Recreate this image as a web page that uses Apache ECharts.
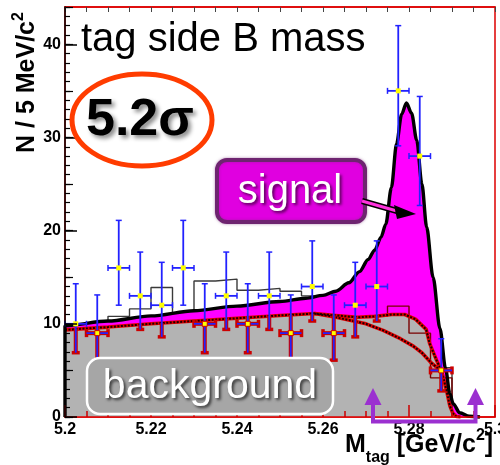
<!DOCTYPE html>
<html>
<head>
<meta charset="utf-8">
<script src="https://cdn.jsdelivr.net/npm/echarts@6/dist/echarts.min.js"></script>
<style>
  html, body { margin: 0; padding: 0; background: #fff; }
  #chart { width: 500px; height: 465px; }
</style>
</head>
<body>
<div id="chart"></div>
<script>
// ---- data: tag-side B candidate mass, 5 MeV bins ----
const binCenters = [5.2025, 5.2075, 5.2125, 5.2175, 5.2225, 5.2275, 5.2325, 5.2375, 5.2425,
                    5.2475, 5.2525, 5.2575, 5.2625, 5.2675, 5.2725, 5.2775, 5.2825, 5.2875];
const counts  = [10, 9, 16, 13, 12, 16, 10, 13, 10, 13, 9, 14, 9, 12, 14, 35, 28, 5];
const errLow  = [3.1, 2.9, 4.0, 3.6, 3.4, 4.0, 3.1, 3.6, 3.1, 3.6, 2.9, 3.7, 2.9, 3.4, 3.7, 5.9, 5.3, 2.2];
const errHigh = [4.3, 4.1, 5.1, 4.7, 4.6, 5.1, 4.3, 4.7, 4.3, 4.7, 4.1, 4.9, 4.1, 4.6, 4.9, 7.0, 6.4, 3.4];
const binHalfWidth = 0.0025;

// expected-yield histogram (thin step line)
const mcEdges  = [5.2, 5.205, 5.21, 5.215, 5.22, 5.225, 5.23, 5.235, 5.24, 5.245,
                  5.25, 5.255, 5.26, 5.265, 5.27, 5.275, 5.28, 5.285, 5.29];
const mcValues = [9.8, 10.0, 10.8, 11.6, 13.9, 11.0, 14.6, 14.8, 13.6, 13.8,
                  13.5, 13.0, 12.4, 12.6, 15.0, 22.0, 17.0, 5.3];

// background-only histogram near the endpoint
const bkgHistEdges  = [5.27, 5.275, 5.28, 5.285, 5.29];
const bkgHistValues = [10.8, 11.9, 9.0, 4.2];

// total fit (signal + background)
const fitX = [5.2, 5.21, 5.22, 5.23, 5.24, 5.25, 5.256, 5.26, 5.263, 5.266, 5.2685, 5.2705,
              5.272, 5.2735, 5.2746, 5.2759, 5.2771, 5.2783, 5.2794, 5.2806, 5.2818, 5.283,
              5.2841, 5.2856, 5.2872, 5.2885, 5.2895, 5.2903, 5.2918, 5.294, 5.2965];
const fitY = [9.8, 10.3, 10.85, 11.4, 11.9, 12.4, 12.75, 13.05, 13.5, 14.4, 15.6, 16.9,
              17.9, 19.3, 20.7, 24.6, 29.3, 32.5, 33.7, 32.6, 29.7, 25.0,
              20.4, 15.0, 9.5, 5.2, 2.5, 1.4, 0.45, 0.08, 0];

// background fit (all background components)
const bkgX = [5.2, 5.21, 5.22, 5.23, 5.24, 5.25, 5.258, 5.263, 5.268, 5.272, 5.276, 5.279,
              5.2815, 5.284, 5.2848, 5.2864, 5.2876, 5.2887, 5.2895, 5.2902, 5.291, 5.292];
const bkgY = [9.35, 9.65, 10.0, 10.3, 10.6, 10.9, 11.1, 10.9, 10.7, 10.8, 11.0, 11.0,
              10.5, 9.4, 7.9, 6.1, 4.9, 2.9, 1.2, 0.4, 0.05, 0];

// continuum-like background component
const contX = [5.258, 5.262, 5.266, 5.27, 5.274, 5.278, 5.281, 5.283, 5.2852, 5.2876];
const contY = [11.1, 10.8, 10.4, 10.0, 9.3, 8.4, 7.6, 6.9, 5.8, 4.9];

// axis ticks
const xTickValues = [5.2, 5.22, 5.24, 5.26, 5.28, 5.3];
const xTickLabels = ['5.2', '5.22', '5.24', '5.26', '5.28', '5.3'];
const yTickValues = [0, 10, 20, 30, 40];
const yTickLabels = ['0', '10', '20', '30', '40'];

// ---- helpers ----
const FONT = '"Liberation Sans", Arial, Helvetica, sans-serif';
function pairs(xs, ys) { return xs.map((x, i) => [x, ys[i]]); }
function stepData(edges, vals) {
  const d = vals.map((v, i) => [edges[i], v]);
  const last = edges[edges.length - 1];
  d.push([last, vals[vals.length - 1]]);
  d.push([last, 0]);
  return d;
}
function interp(xs, ys, x) {
  if (x <= xs[0]) return ys[0];
  for (let i = 1; i < xs.length; i++) {
    if (x <= xs[i]) {
      const t = (x - xs[i - 1]) / (xs[i] - xs[i - 1]);
      return ys[i - 1] + t * (ys[i] - ys[i - 1]);
    }
  }
  return ys[ys.length - 1];
}
function labelFor(values, labels) {
  return function (v) {
    for (let i = 0; i < values.length; i++) if (Math.abs(v - values[i]) < 1e-7) return labels[i];
    return '';
  };
}
const measureCtx = document.createElement('canvas').getContext('2d');
function textWidth(t, font) { measureCtx.font = font; return measureCtx.measureText(t).width; }

const RED = '#cc0000';
const BLUE = '#2222ff';

function renderPoint(params, api) {
  const x = api.value(0), y = api.value(1), lo = api.value(2), hi = api.value(3);
  const bk = interp(bkgX, bkgY, x);
  const c = api.coord([x, y]);
  const cl = api.coord([x - binHalfWidth, y]);
  const cr = api.coord([x + binHalfWidth, y]);
  const cLo = api.coord([x, lo]);
  const cHi = api.coord([x, hi]);
  const cBk = api.coord([x, Math.min(hi, bk)]);
  const kids = [];
  const cap = 3;
  const seg = (x1, y1, x2, y2, color, w) =>
    kids.push({ type: 'line', shape: { x1, y1, x2, y2 }, style: { stroke: color, lineWidth: w } });
  const inBkg = y < bk;
  // parts lying inside the background band get a red outline
  if (lo < bk) {
    seg(c[0], cLo[1], c[0], cBk[1], RED, 4);
    seg(c[0] - cap - 1, cLo[1], c[0] + cap + 1, cLo[1], RED, 3.5);
  }
  if (inBkg) {
    seg(cl[0], c[1], cr[0], c[1], RED, 4);
    seg(cl[0], c[1] - cap - 1, cl[0], c[1] + cap + 1, RED, 3.5);
    seg(cr[0], c[1] - cap - 1, cr[0], c[1] + cap + 1, RED, 3.5);
  }
  seg(c[0], cLo[1], c[0], cHi[1], BLUE, 1.8);
  seg(c[0] - cap, cHi[1], c[0] + cap, cHi[1], hi < bk ? RED : BLUE, 1.5);
  if (lo >= bk) seg(c[0] - cap, cLo[1], c[0] + cap, cLo[1], BLUE, 1.5);
  seg(cl[0], c[1], cr[0], c[1], BLUE, 1.8);
  if (!inBkg) {
    seg(cl[0], c[1] - cap, cl[0], c[1] + cap, BLUE, 1.5);
    seg(cr[0], c[1] - cap, cr[0], c[1] + cap, BLUE, 1.5);
  }
  kids.push({
    type: 'rect',
    shape: { x: c[0] - 2.5, y: c[1] - 2.5, width: 5, height: 5 },
    style: { fill: '#ffff00', stroke: inBkg ? RED : null, lineWidth: inBkg ? 1 : 0 }
  });
  return { type: 'group', children: kids };
}

// ---- chart ----
const chart = echarts.init(document.getElementById('chart'), null, { renderer: 'canvas' });

const tickAxisY = (interval, len) => ({
  type: 'value', min: 0, max: 44, interval: interval, position: 'left', z: 10,
  axisLine: { show: false }, splitLine: { show: false }, axisLabel: { show: false },
  axisTick: { show: true, inside: true, length: len, lineStyle: { color: '#000', width: 1.2 } }
});

const option = {
  animation: false,
  backgroundColor: '#fff',
  grid: {
    left: 65, right: 5, top: 7, bottom: 48, show: true,
    containLabel: false, outerBoundsMode: 'none',
    backgroundColor: '#fff', borderColor: '#dd0000', borderWidth: 1.5
  },
  xAxis: [
    {
      type: 'value', min: 5.2, max: 5.3, interval: 0.02, position: 'bottom', z: 10,
      axisLine: { show: true, onZero: false, lineStyle: { color: '#dd0000', width: 1.5 } },
      axisTick: { show: true, inside: true, length: 12, lineStyle: { color: RED, width: 1.5 } },
      minorTick: { show: true, splitNumber: 4, length: 6, lineStyle: { color: RED, width: 1.5 } },
      splitLine: { show: false },
      axisLabel: {
        formatter: labelFor(xTickValues, xTickLabels), margin: 5, hideOverlap: false,
        color: '#000', fontWeight: 'bold', fontSize: 16, fontFamily: FONT
      }
    },
    {
      type: 'value', min: 5.2, max: 5.3, interval: 0.005, position: 'top', z: 10,
      axisLine: { show: true, onZero: false, lineStyle: { color: '#dd0000', width: 1.5 } },
      axisTick: { show: true, inside: true, length: 5, lineStyle: { color: '#444', width: 1 } },
      splitLine: { show: false }, axisLabel: { show: false }
    }
  ],
  yAxis: [
    {
      type: 'value', min: 0, max: 44, interval: 10, position: 'left', z: 11,
      axisLine: { show: true, onZero: false, lineStyle: { color: '#000', width: 1.5 } },
      axisTick: { show: true, inside: true, length: 12, lineStyle: { color: '#000', width: 1.5 } },
      splitLine: { show: false },
      axisLabel: {
        formatter: labelFor(yTickValues, yTickLabels), margin: 4, showMaxLabel: false,
        color: '#000', fontWeight: 'bold', fontSize: 16, fontFamily: FONT
      }
    },
    tickAxisY(5, 8),
    tickAxisY(1, 5)
  ],
  series: [
    { // expected-yield histogram, behind the fit fills
      type: 'line', step: 'end', z: 1, showSymbol: false, silent: true,
      data: stepData(mcEdges, mcValues),
      lineStyle: { color: '#3a3a3a', width: 1.4 }
    },
    { // signal fill: total fit area
      type: 'line', z: 2, showSymbol: false, silent: true,
      smooth: 0.3, smoothMonotone: 'x',
      data: pairs(fitX, fitY),
      lineStyle: { width: 0, opacity: 0 },
      areaStyle: { color: '#ff00ff', opacity: 1 }
    },
    { // background fill
      type: 'line', z: 3, showSymbol: false, silent: true,
      data: pairs(bkgX, bkgY),
      lineStyle: { width: 0, opacity: 0 },
      areaStyle: { color: '#b3b3b3', opacity: 1 }
    },
    { // background-only histogram
      type: 'line', step: 'end', z: 4, showSymbol: false, silent: true,
      data: stepData(bkgHistEdges, bkgHistValues),
      lineStyle: { color: '#7a0000', width: 1.4 }
    },
    { // background curves: red halo
      type: 'line', z: 5, showSymbol: false, silent: true,
      data: pairs(bkgX, bkgY), lineStyle: { color: '#e00000', width: 3.6 }
    },
    {
      type: 'line', z: 5, showSymbol: false, silent: true,
      data: pairs(contX, contY), lineStyle: { color: '#e00000', width: 3.6 }
    },
    {
      type: 'line', z: 5, showSymbol: false, silent: true,
      data: pairs(bkgX, bkgY), lineStyle: { color: '#1a0000', width: 2, type: [2, 1.5] }
    },
    {
      type: 'line', z: 5, showSymbol: false, silent: true,
      data: pairs(contX, contY), lineStyle: { color: '#1a0000', width: 2, type: [2, 1.5] }
    },
    { // total fit curve
      type: 'line', z: 6, showSymbol: false, silent: true, clip: false,
      smooth: 0.3, smoothMonotone: 'x',
      data: [[fitX[0], 0]].concat(pairs(fitX, fitY)),
      lineStyle: { color: '#000', width: 3.4 }
    },
    { // data points with asymmetric Poisson errors
      type: 'custom', z: 8, silent: true,
      renderItem: renderPoint,
      data: binCenters.map((x, i) => [x, counts[i], counts[i] - errLow[i], counts[i] + errHigh[i]])
    }
  ]
};
chart.setOption(option);

// ---- annotations ----
const titleFont = '40px ' + FONT;
const boldAxisFont = 'bold 25px ' + FONT;
const boldSmall = 'bold 16px ' + FONT;
const yTitleFont = 'bold 25px ' + FONT;

// x-axis title pieces: M_tag [GeV/c^2]
const xt = [];
let xx = 345;
[['M', boldAxisFont, 445], ['tag', boldSmall, 458], [' [GeV/c', boldAxisFont, 445],
 ['2', boldSmall, 436], [']', boldAxisFont, 445]].forEach(function (p) {
  xt.push({ type: 'text', x: xx, y: p[2], z: 30,
    style: { text: p[0], font: p[1], fill: '#000', align: 'left', verticalAlign: 'middle' } });
  xx += textWidth(p[0], p[1]);
});
// y-axis title: N / 5 MeV/c^2, reading upwards
const yMain = 'N / 5 MeV/c';
const yMainW = textWidth(yMain, yTitleFont);
const yt = [
  { type: 'text', x: 27, y: 153, rotation: Math.PI / 2, z: 30,
    style: { text: yMain, font: yTitleFont, fill: '#000', align: 'left', verticalAlign: 'middle' } },
  { type: 'text', x: 19, y: 153 - yMainW, rotation: Math.PI / 2, z: 30,
    style: { text: '2', font: 'bold 16px ' + FONT, fill: '#000', align: 'left', verticalAlign: 'middle' } }
];

chart.setOption({
  graphic: [
    { type: 'text', x: 81, y: 40, z: 30,
      style: { text: 'tag side B mass', font: titleFont, fill: '#000', align: 'left', verticalAlign: 'middle' } },
    { type: 'text', x: 86, y: 121, z: 30,
      style: { text: '5.2σ', font: 'bold 52px ' + FONT, fill: '#000', align: 'left', verticalAlign: 'middle',
               textShadowColor: 'rgba(0,0,0,0.45)', textShadowBlur: 4, textShadowOffsetX: 3, textShadowOffsetY: 3 } },
    { type: 'ellipse', z: 30, shape: { cx: 142, cy: 120, rx: 70, ry: 46 },
      style: { fill: null, stroke: '#ff3c00', lineWidth: 5 } },

    // signal label and arrow
    { type: 'rect', z: 30, shape: { x: 217, y: 160, width: 148, height: 62, r: 10 },
      style: { fill: '#e000e0', stroke: '#6e2470', lineWidth: 4,
               shadowColor: 'rgba(120,40,120,0.5)', shadowBlur: 3 } },
    { type: 'text', x: 290, y: 192, z: 31,
      style: { text: 'signal', font: '40px ' + FONT, fill: '#fff', align: 'center', verticalAlign: 'middle',
               textShadowColor: 'rgba(0,0,0,0.6)', textShadowBlur: 3, textShadowOffsetX: 2, textShadowOffsetY: 2 } },
    { type: 'line', z: 30, shape: { x1: 362, y1: 201, x2: 397, y2: 211 },
      style: { stroke: '#000', lineWidth: 6 } },
    { type: 'line', z: 31, shape: { x1: 362, y1: 201, x2: 396, y2: 210.7 },
      style: { stroke: '#ff33dd', lineWidth: 3 } },
    { type: 'polygon', z: 31, shape: { points: [[394, 205], [397, 219], [416, 214]] },
      style: { fill: '#000' } },

    // background label
    { type: 'rect', z: 30, shape: { x: 87, y: 358, width: 246, height: 56, r: 13 },
      style: { fill: '#a6a6a6', stroke: '#ffffff', lineWidth: 2.5 } },
    { type: 'text', x: 210, y: 387, z: 31,
      style: { text: 'background', font: '41px ' + FONT, fill: '#fff', align: 'center', verticalAlign: 'middle',
               textShadowColor: 'rgba(0,0,0,0.65)', textShadowBlur: 3, textShadowOffsetX: 2, textShadowOffsetY: 2 } },

    // signal-window bracket
    { type: 'polyline', z: 30,
      shape: { points: [[373, 403], [373, 421.5], [475.5, 421.5], [475.5, 403]] },
      style: { stroke: '#9b30d0', lineWidth: 4, fill: null } },
    { type: 'polygon', z: 30, shape: { points: [[364.5, 405], [381.5, 405], [373, 388]] },
      style: { fill: '#9b30d0' } },
    { type: 'polygon', z: 30, shape: { points: [[467, 405], [484, 405], [475.5, 388]] },
      style: { fill: '#9b30d0' } }
  ].concat(xt, yt)
});
</script>
</body>
</html>
